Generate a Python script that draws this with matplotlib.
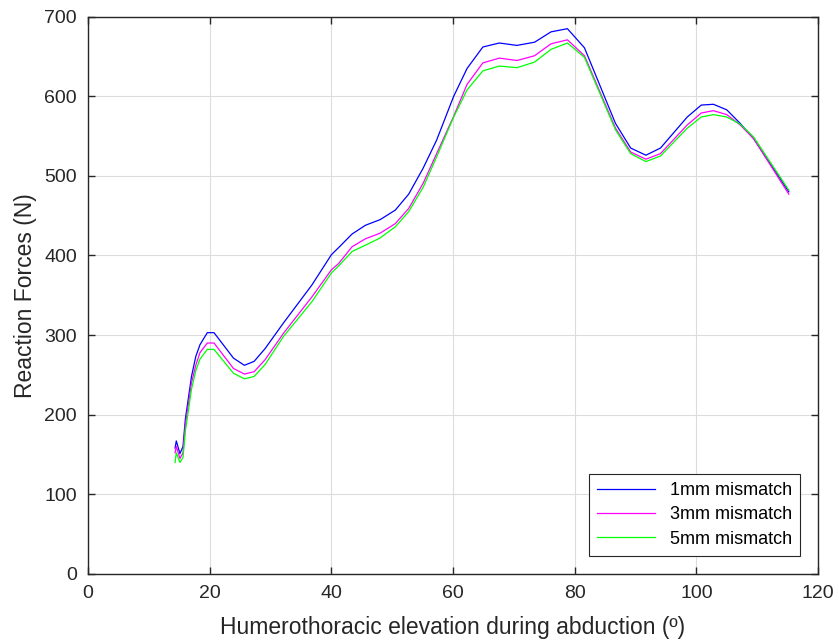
import matplotlib.pyplot as plt

# Humerothoracic elevation (deg), shared by all three curves
elevation = [14.3, 14.5, 15.1, 15.6, 16.0, 17.0, 17.7, 18.4, 19.6, 20.7,
             23.9, 25.7, 27.3, 29.1, 32.1, 36.8, 40.0, 41.2, 43.4, 45.6,
             48.0, 50.5, 52.7, 55.1, 57.3, 60.1, 62.3, 64.9, 67.6, 70.5,
             73.4, 76.1, 78.8, 81.6, 86.7, 89.2, 91.7, 94.1, 98.5, 100.8,
             102.8, 105.0, 107.2, 109.4, 115.2]

force_1mm = [158, 167, 151, 160, 195, 248, 273, 288, 303, 303,
             271, 262, 267, 283, 315, 363, 401, 410, 427, 438,
             445, 457, 477, 510, 545, 600, 635, 662, 667, 664,
             668, 681, 685, 661, 566, 535, 526, 535, 574, 589,
             590, 583, 566, 547, 480]

force_3mm = [152, 160, 145, 152, 188, 240, 262, 278, 290, 290,
             258, 251, 254, 269, 302, 348, 382, 390, 411, 421,
             428, 440, 459, 491, 528, 575, 615, 642, 648, 645,
             651, 666, 671, 651, 560, 530, 521, 528, 564, 579,
             582, 577, 564, 547, 477]

force_5mm = [140, 152, 140, 146, 180, 232, 255, 270, 282, 282,
             252, 245, 248, 263, 298, 342, 378, 387, 405, 413,
             422, 436, 455, 486, 524, 574, 608, 632, 638, 636,
             643, 659, 667, 649, 558, 528, 518, 525, 560, 574,
             577, 574, 565, 549, 482]

labels = ["1mm mismatch", "3mm mismatch", "5mm mismatch"]
colors = ["#0000ff", "#ff00ff", "#00ff00"]

plt.rcParams["font.family"] = ["Liberation Sans", "DejaVu Sans"]

fig = plt.figure(figsize=(8.39, 6.44), dpi=100)
ax = fig.add_axes([0.105, 0.109, 0.870, 0.865])

for y, lab, c in zip([force_1mm, force_3mm, force_5mm], labels, colors):
    ax.plot(elevation, y, color=c, lw=0.9, label=lab)

ax.set_xlim(0, 120)
ax.set_ylim(0, 700)
ax.set_xticks(range(0, 121, 20))
ax.set_yticks(range(0, 701, 100))
ax.grid(True, color="#dcdcdc", lw=0.8)
ax.set_axisbelow(True)
ax.tick_params(direction="in", top=True, right=True, length=5,
               width=1.0, color="#262626", labelsize=14, labelcolor="#262626",
               pad=8)
for s in ax.spines.values():
    s.set_color("#262626")
    s.set_linewidth(1.0)

ax.set_xlabel("Humerothoracic elevation during abduction (º)",
              fontsize=16.5, color="#262626", labelpad=10)
ax.set_ylabel("Reaction Forces (N)", fontsize=16.5, color="#262626", labelpad=5)

leg = ax.legend(loc="lower right", fontsize=13, frameon=True, fancybox=False,
                edgecolor="#262626", framealpha=1, handlelength=3.2,
                borderaxespad=1.0, labelspacing=0.4, borderpad=0.45)
leg.get_frame().set_linewidth(0.8)

fig.savefig("out.png", dpi=100)
